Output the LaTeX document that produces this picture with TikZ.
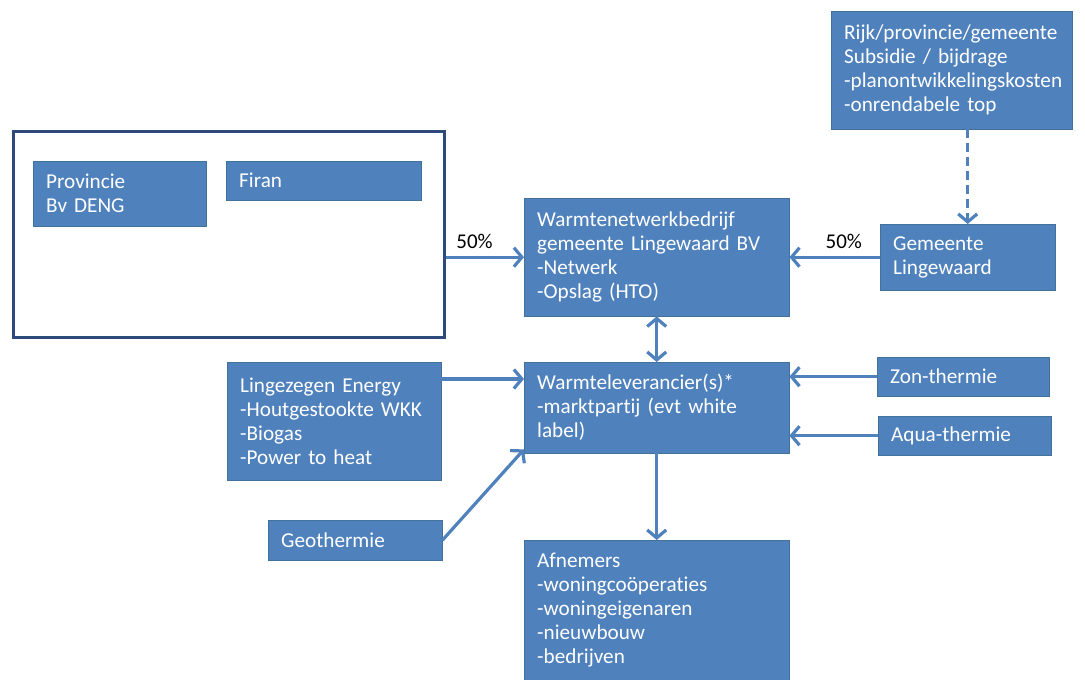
\documentclass[tikz,border=0pt]{standalone}
\usepackage{fontspec}
\setmainfont{Carlito}[Ligatures=NoCommon]
\usetikzlibrary{arrows.meta, positioning}
\definecolor{boxblue}{HTML}{4F81BD}
\definecolor{edgeblue}{HTML}{41719C}
\definecolor{frameblue}{HTML}{2E4A7D}
\hyphenpenalty=10000
\exhyphenpenalty=10000

\begin{document}
\begin{tikzpicture}[x=1pt, y=-1pt,
	blok/.style = {shape=rectangle, draw=edgeblue, fill=boxblue, text=white, align=left,
		anchor=north west, inner xsep=13pt, font=\fontsize{21.2}{24}\selectfont},
	kader/.style = {shape=rectangle, draw=frameblue, line width=2.5pt, anchor=north west},
	pijl/.style = {draw=boxblue, line width=3.2pt, -{Straight Barb[length=8pt, width=19pt]}},
	dubbel/.style = {pijl, {Straight Barb[length=8pt, width=19pt]}-{Straight Barb[length=8pt, width=19pt]}},
	pct/.style = {font=\fontsize{21}{24}\selectfont, above=4pt}]
	\useasboundingbox (0,0) rectangle (1085,680);
	\node[kader, minimum width=431pt, minimum height=206pt] (K) at (12,130) {};
	\node[blok, minimum width=173pt, minimum height=65pt, text width=147pt] (Prov) at (33,161) {Provincie\\Bv DENG};
	\node[blok, minimum width=195pt, minimum height=39pt, text width=169pt] (Firan) at (226,161) {Firan};
	\node[blok, minimum width=265pt, minimum height=118pt, text width=239pt] (WNB) at (524,198)
		{Warmtenetwerkbedrijf\\gemeente Lingewaard BV\\-Netwerk\\-Opslag (HTO)};
	\node[blok, minimum width=241pt, minimum height=118pt, text width=215pt] (Rijk) at (831,11)
		{Rijk/provincie/gemeente\\Subsidie / bijdrage\\-planontwikkelingskosten\\-onrendabele top};
	\node[blok, minimum width=175pt, minimum height=66pt, text width=149pt] (Gem) at (880,224) {Gemeente\\Lingewaard};
	\node[blok, minimum width=265pt, minimum height=91pt, text width=239pt] (WLV) at (524,362)
		{Warmteleverancier(s)*\\-marktpartij (evt white\\label)};
	\node[blok, minimum width=214pt, minimum height=118pt, text width=188pt] (LZE) at (227,362)
		{Lingezegen Energy\\-Houtgestookte WKK\\-Biogas\\-Power to heat};
	\node[blok, minimum width=172pt, minimum height=39pt, text width=146pt] (Zon) at (877,357) {Zon-thermie};
	\node[blok, minimum width=173pt, minimum height=39pt, text width=147pt] (Aqua) at (878,416) {Aqua-thermie};
	\node[blok, minimum width=174pt, minimum height=40pt, text width=148pt] (Geo) at (268,520) {Geothermie};
	\node[blok, minimum width=265pt, minimum height=140pt, text width=239pt] (Afn) at (524,540)
		{Afnemers\\-woningcoöperaties\\-woningeigenaren\\-nieuwbouw\\-bedrijven};
	\draw[pijl] (K.east |- WNB.west) -- node[pct, pos=0.37] {50\%} (WNB.west);
	\draw[pijl] (Gem.west) -- node[pct, pos=0.4] {50\%} (Gem.west -| WNB.east);
	\draw[pijl, dash pattern=on 9pt off 5pt] (Gem.north |- Rijk.south) -- (Gem.north);
	\draw[dubbel] (WNB.south) -- (WLV.north);
	\draw[pijl] ([yshift=-17pt]LZE.north east) -- ([yshift=-17pt]LZE.north east -| WLV.west);
	\draw[pijl] (Geo.east) -- ([yshift=4pt]WLV.south west);
	\draw[pijl] (Zon.west) -- (Zon.west -| WLV.east);
	\draw[pijl] (Aqua.west) -- (Aqua.west -| WLV.east);
	\draw[pijl] (WLV.south) -- (Afn.north);
\end{tikzpicture}
\end{document}
